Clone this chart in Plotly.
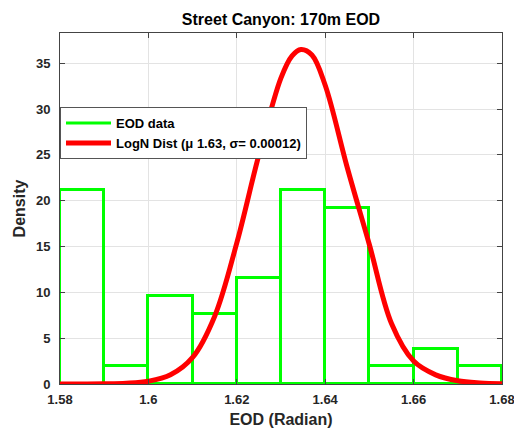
import plotly.graph_objects as go

# Histogram (density) values per bin
bin_edges = [1.58, 1.59, 1.60, 1.61, 1.62, 1.63, 1.64, 1.65, 1.66, 1.67, 1.68]
density = [21.15, 1.92, 9.62, 7.69, 11.54, 21.15, 19.23, 1.92, 3.85, 1.92]

# Fitted lognormal curve
curve_x = [1.58, 1.59, 1.595, 1.60, 1.605, 1.61, 1.615, 1.62, 1.625, 1.63, 1.6325,
           1.6345, 1.637, 1.64, 1.645, 1.65, 1.655, 1.66, 1.665, 1.67, 1.675, 1.68]
curve_y = [0.0, 0.02, 0.08, 0.3, 1.0, 2.9, 7.4, 15.4, 25.0, 33.4, 35.8,
           36.5, 35.9, 32.6, 23.6, 15.2, 6.6, 2.5, 1.0, 0.35, 0.12, 0.04]

x_ticks = [1.58, 1.60, 1.62, 1.64, 1.66, 1.68]
x_tick_labels = ["1.58", "1.6", "1.62", "1.64", "1.66", "1.68"]
y_ticks = [0, 5, 10, 15, 20, 25, 30, 35]

centers = [(bin_edges[i] + bin_edges[i + 1]) / 2 for i in range(len(density))]
widths = [bin_edges[i + 1] - bin_edges[i] for i in range(len(density))]

GREEN = "#00ff00"
RED = "#ff0000"
FONT = "Liberation Sans, Arial, sans-serif"

fig = go.Figure()
fig.add_trace(go.Bar(
    x=centers, y=density, width=widths,
    marker=dict(color="rgba(0,0,0,0)", line=dict(color=GREEN, width=3)),
    showlegend=False, hoverinfo="x+y",
))
fig.add_trace(go.Scatter(
    x=[None], y=[None], mode="lines", name="<b>EOD data</b>",
    line=dict(color=GREEN, width=3),
))
fig.add_trace(go.Scatter(
    x=curve_x, y=curve_y, mode="lines", line_shape="spline",
    name="<b>LogN Dist (\u03bc 1.63, \u03c3= 0.00012)</b>",
    line=dict(color=RED, width=5),
))

axis_common = dict(
    showline=True, linecolor="#444", linewidth=1, mirror="allticks",
    ticks="inside", ticklen=5, tickcolor="#444",
    showgrid=True, gridcolor="#e3e3e3", gridwidth=1, zeroline=False,
    tickfont=dict(family=FONT, size=13, color="#262626"),
    automargin=False, ticklabeloverflow="allow",
)

fig.update_layout(
    width=514, height=430,
    margin=dict(l=60, r=12, t=33, b=46),
    paper_bgcolor="white", plot_bgcolor="white",
    font=dict(family=FONT, color="#262626"),
    title=dict(text="<b>Street Canyon: 170m EOD</b>", xref="paper", x=0.5, xanchor="center",
               yref="container", y=0.967, yanchor="top", automargin=False,
               font=dict(size=16, family=FONT, color="#000")),
    bargap=0,
    legend=dict(
        x=0.0, y=0.789, xanchor="left", yanchor="top",
        bgcolor="white", bordercolor="#555", borderwidth=1,
        font=dict(family=FONT, size=13, color="#000"),
        tracegroupgap=0, itemwidth=45,
    ),
    xaxis=dict(range=[1.5799999, 1.6800001], tickvals=x_ticks,
               ticktext=["<b>%s</b>" % t for t in x_tick_labels], ticklabelstandoff=3,
               title=dict(text="<b>EOD (Radian)</b>", standoff=8, font=dict(size=16, family=FONT, color="#262626")),
               **axis_common),
    yaxis=dict(range=[0, 38.3], tickvals=y_ticks, ticktext=["<b>%d</b>" % t for t in y_ticks],
               ticklabelstandoff=6,
               title=dict(text="<b>Density</b>", standoff=6, font=dict(size=16, family=FONT, color="#262626")),
               **axis_common),
)

fig.write_html(
    "out.html",
    config={"displayModeBar": False},
    post_script="document.body.style.margin='0';document.body.style.overflow='hidden';",
)
